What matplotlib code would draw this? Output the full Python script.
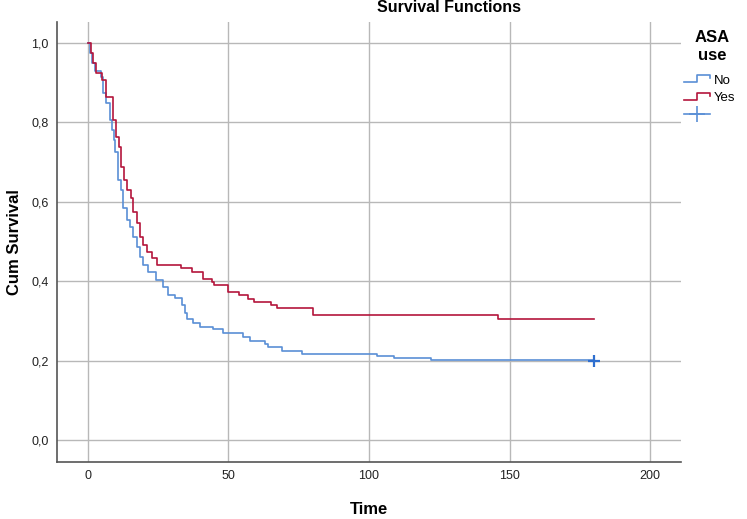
import matplotlib
matplotlib.use("Agg")
import matplotlib.pyplot as plt
from matplotlib.lines import Line2D
from matplotlib.legend_handler import HandlerBase

plt.rcParams['font.family'] = ['Liberation Sans', 'DejaVu Sans']

# ---- data ----
yes_time = [0, 1.1, 1.7, 2.9, 4.9, 6.6, 9.0, 10.0, 11.1, 11.6, 12.9, 14.0, 15.2, 16.1,
            17.3, 18.5, 19.7, 20.9, 22.7, 24.7, 33.1, 36.9, 41.0, 44.2, 45.0, 49.9,
            53.8, 57.1, 59.1, 65.0, 67.4, 80.2, 145.8, 180]
yes_surv = [1.0, 0.974, 0.949, 0.925, 0.907, 0.865, 0.806, 0.764, 0.739, 0.688, 0.655,
            0.630, 0.609, 0.575, 0.546, 0.512, 0.491, 0.474, 0.458, 0.442, 0.434, 0.424,
            0.407, 0.399, 0.390, 0.374, 0.365, 0.355, 0.348, 0.340, 0.332, 0.315, 0.305,
            0.305]

no_time = [0, 0.6, 1.5, 2.5, 4.5, 5.5, 6.4, 8.0, 8.7, 9.3, 9.8, 10.8, 11.7, 12.6, 13.8,
           14.9, 16.1, 17.3, 18.5, 19.7, 21.5, 24.4, 26.8, 28.6, 31.0, 33.3, 34.5, 35.3,
           37.5, 39.9, 44.6, 48.2, 55.3, 57.7, 63.0, 64.2, 68.9, 76.0, 92, 103, 109, 122,
           180]
no_surv = [1.0, 0.975, 0.95, 0.93, 0.915, 0.873, 0.848, 0.806, 0.781, 0.756, 0.726,
           0.655, 0.630, 0.584, 0.554, 0.537, 0.512, 0.487, 0.462, 0.441, 0.424, 0.403,
           0.386, 0.365, 0.357, 0.340, 0.319, 0.304, 0.296, 0.284, 0.280, 0.269, 0.260,
           0.249, 0.243, 0.235, 0.225, 0.218, 0.216, 0.212, 0.208, 0.203, 0.200]

censor_time = [180]
censor_surv = [0.200]

x_ticks = [0, 50, 100, 150, 200]
y_ticks = [0.0, 0.2, 0.4, 0.6, 0.8, 1.0]
y_ticklabels = ['0,0', '0,2', '0,4', '0,6', '0,8', '1,0']

group_labels = ['No', 'Yes']
col_no = '#5a8fd6'
col_yes = '#b4153c'

# ---- figure ----
fig = plt.figure(figsize=(7.47, 5.19), dpi=100)
ax = fig.add_axes([0.0763, 0.1098, 0.8353, 0.8478])

ax.plot(no_time, no_surv, drawstyle='steps-post', color=col_no, lw=1.2)
ax.plot(yes_time, yes_surv, drawstyle='steps-post', color=col_yes, lw=1.2)
ax.plot(censor_time, censor_surv, linestyle='none', marker='+', color='#2f6fcf',
        markersize=9, markeredgewidth=1.6)

ax.set_xlim(-11, 211)
ax.set_ylim(-0.055, 1.053)
ax.set_xticks(x_ticks)
ax.set_yticks(y_ticks)
ax.set_yticklabels(y_ticklabels)
ax.grid(True, color='#b8b8b8', lw=1.0)
ax.set_axisbelow(True)
ax.tick_params(length=0, labelsize=9, colors='#222222', pad=6)
for s in ['top', 'right']:
    ax.spines[s].set_visible(False)
for s in ['left', 'bottom']:
    ax.spines[s].set_color('#555555')
    ax.spines[s].set_linewidth(1.2)

ax.set_xlabel('Time', fontsize=12, fontweight='bold', labelpad=14)
ax.set_ylabel('Cum Survival', fontsize=12, fontweight='bold', labelpad=7)
fig.text(449 / 747, 1 - 7 / 519, 'Survival Functions', ha='center', va='center',
         fontsize=11.5, fontweight='bold')

# legend title
fig.text(712 / 747, 1 - 38 / 519, 'ASA', ha='center', va='center', fontsize=12,
         fontweight='bold')
fig.text(712 / 747, 1 - 56 / 519, 'use', ha='center', va='center', fontsize=12,
         fontweight='bold')


class StepHandler(HandlerBase):
    def create_artists(self, legend, orig_handle, xdescent, ydescent, width, height,
                       fontsize, trans):
        lo = -ydescent + 0.15 * height
        hi = -ydescent + 0.95 * height
        x0 = -xdescent
        xs = [x0, x0 + 0.5 * width, x0 + 0.5 * width, x0 + width, x0 + width]
        ys = [lo, lo, hi, hi, hi - 0.35 * height]
        ln = Line2D(xs, ys, color=orig_handle.get_color(), lw=1.2, transform=trans)
        return [ln]


h_no = Line2D([], [], color=col_no)
h_yes = Line2D([], [], color=col_yes)
h_cens = Line2D([], [], color=col_no, marker='+', markersize=11, markeredgewidth=1.2,
                lw=1.2)
leg = fig.legend([h_no, h_yes, h_cens], group_labels + [''],
                 handler_map={h_no: StepHandler(), h_yes: StepHandler()},
                 loc='upper left', bbox_to_anchor=(681 / 747, 1 - 72 / 519),
                 frameon=False, fontsize=9.5,
                 handlelength=2.0, handletextpad=0.3, labelspacing=0.4,
                 borderaxespad=0, borderpad=0.2)

fig.savefig('out.png', dpi=100)
